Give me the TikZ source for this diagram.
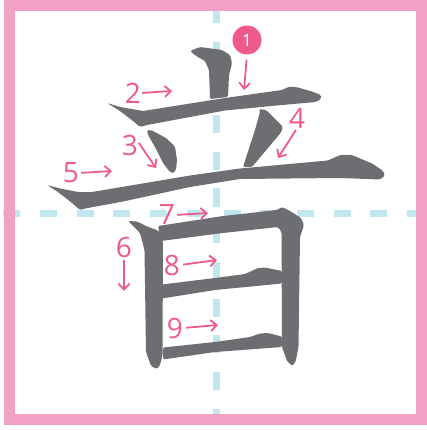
\documentclass[tikz,border=0pt]{standalone}
\usepackage{fontspec}
\usetikzlibrary{arrows.meta}
\newfontfamily\numfont{Open Sans}
\definecolor{numpink}{RGB}{238,90,140}
\definecolor{framepink}{RGB}{243,160,197}
\definecolor{guideblue}{RGB}{192,230,238}
\definecolor{inkgray}{RGB}{109,110,114}
\begin{document}
\begin{tikzpicture}[x=1pt,y=-1pt,
    guide/.style={guideblue,line width=6.5pt},
    stroke/.style={fill=inkgray,rounded corners=1.5pt},
    num/.style={text=numpink,inner sep=0pt,font=\numfont\fontsize{28}{28}\selectfont},
    arr/.style={numpink,line width=1.8pt,-{Straight Barb[length=6pt,width=11pt]}}]
    \useasboundingbox (0,0) rectangle (427,430);
    \draw[guide,dash pattern=on 18pt off 18.7pt] (216.5,5) -- (216.5,425);
    \draw[guide,dash pattern=on 17pt off 19.7pt] (3.3,213.3) -- (427,213.3);
    \draw[framepink,line width=11pt] (9.5,5.5) rectangle (421.8,419.5);
    \fill[stroke] (190,51) -- (200,47) -- (222,50) -- (230,55) -- (232,63) -- (229,75) -- (228,97) -- (210,99) -- (209,70) -- (205,61) -- (196,56) -- cycle;
    \fill[stroke] (107,103) -- (120,107) -- (143,111) -- (225,98) -- (282,90) -- (288,87) -- (296,87) -- (312,91.5) -- (321,95) -- (321,99) -- (316,102) -- (282,105) -- (225,110.5) -- (147,125) -- (140,127) -- (133,121) -- (120,111) -- cycle;
    \fill[stroke] (147,130) -- (152,130.5) -- (166,138) -- (175,146.5) -- (177,160) -- (176,170) -- (173,173.5) -- (169,171) -- (163,163) -- (155,147) -- (148,135) -- cycle;
    \fill[stroke] (259,109) -- (266,110) -- (283,127) -- (281,132.5) -- (252,167) -- (243,167) -- (255,130) -- (260,112) -- cycle;
    \fill[stroke] (47,185) -- (60,188.5) -- (78,192) -- (92,192) -- (190,175.5) -- (240,168.5) -- (328,160.5) -- (340,155) -- (352,155) -- (373,164) -- (383,171) -- (385,175.5) -- (380,179.5) -- (340,178) -- (240,179) -- (190,187) -- (123,201.5) -- (85,208.5) -- (80,210) -- (72,203) -- (58,192) -- cycle;
    \fill[stroke] (128,221) -- (137,221.5) -- (147,226.5) -- (157,230) -- (162,235) -- (163,245) -- (162.5,355) -- (160,365) -- (157,369) -- (151,366) -- (146,352) -- (144.5,250) -- (140,233) -- (133,226) -- cycle;
    \fill[stroke] (158,226) -- (223,216) -- (277,210) -- (282,207) -- (290,211) -- (301,218) -- (304,225) -- (300,237) -- (298.5,347) -- (295.5,362) -- (292,366) -- (287,361) -- (282,347) -- (281.5,232) -- (278,227) -- (223,233) -- (161,241) -- cycle;
    \fill[stroke] (162,284.5) -- (215,278) -- (245,274) -- (258,268) -- (265,267.5) -- (282,271) -- (282,283.5) -- (215,290) -- (162,298.5) -- cycle;
    \fill[stroke] (163,347.5) -- (215,342) -- (250,337) -- (260,333.5) -- (268,333) -- (282,336.5) -- (282,347) -- (215,352) -- (163,359.5) -- cycle;
    \node[circle,fill=numpink,minimum size=29pt,inner sep=0pt,text=white,font=\numfont\fontsize{17}{17}\selectfont] (c1) at (247,40) {1};
    \node[num] (n2) at (133,93) {2};
    \node[num] (n3) at (130,145) {3};
    \node[num] (n4) at (297,118) {4};
    \node[num] (n5) at (71,173) {5};
    \node[num] (n6) at (124,247) {6};
    \node[num] (n7) at (167,215) {7};
    \node[num] (n8) at (172,265) {8};
    \node[num] (n9) at (175,328) {9};
    \coordinate (t1) at (244,90);
    \coordinate (t2) at (172,91);
    \coordinate (t3) at (156,168);
    \coordinate (t4) at (278,158);
    \coordinate (t5) at (112,171);
    \coordinate (t6) at (124,291);
    \coordinate (t7) at (208,213);
    \coordinate (t8) at (217,260);
    \coordinate (t9) at (218,325);
    \draw[arr,shorten <=5pt] (c1.south) -- (t1);
    \draw[arr,shorten <=1pt] (n2.east) -- (t2);
    \draw[arr,shorten <=1pt] (n3.20) -- (t3);
    \draw[arr,shorten <=2pt] (n4.south) -- (t4);
    \draw[arr,shorten <=2pt] (n5.east) -- (t5);
    \draw[arr,shorten <=3pt] (n6.south) -- (t6);
    \draw[arr,shorten <=2pt] (n7.east) -- (t7);
    \draw[arr,shorten <=3pt] (n8.east) -- (t8);
    \draw[arr,shorten <=3pt] (n9.east) -- (t9);
\end{tikzpicture}
\end{document}
